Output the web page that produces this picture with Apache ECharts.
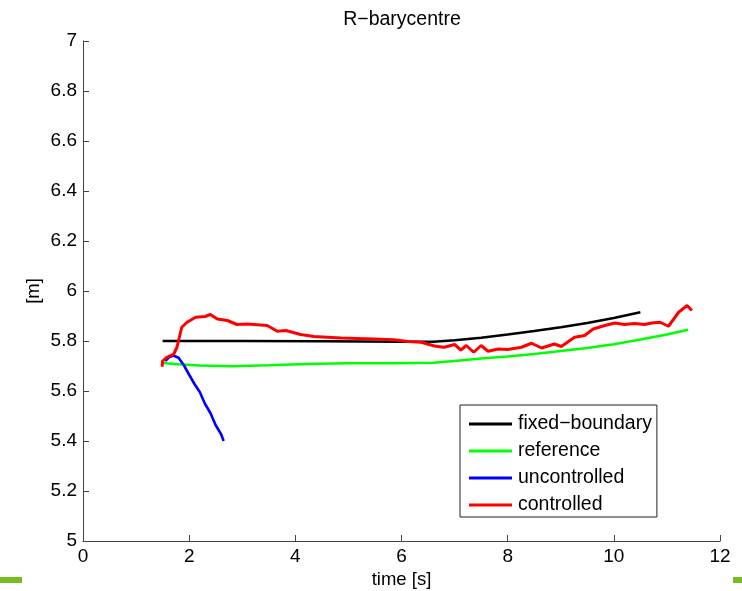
<!DOCTYPE html>
<html>
<head>
<meta charset="utf-8">
<script src="https://cdn.jsdelivr.net/npm/echarts@6/dist/echarts.min.js"></script>
<style>
html,body{margin:0;padding:0;background:#fff;}
#chart{width:742px;height:591px;}
</style>
</head>
<body>
<div id="chart"></div>
<script>
const seriesNames = ['fixed\u2212boundary', 'reference', 'uncontrolled', 'controlled'];

const fixedT = [1.5, 3.0, 4.5, 6.0, 6.6, 7.0, 7.5, 8.0, 8.5, 9.0, 9.5, 10.0, 10.5];
const fixedR = [5.800, 5.800, 5.799, 5.797, 5.797, 5.803, 5.813, 5.826, 5.840, 5.855, 5.872, 5.892, 5.915];

const refT = [1.5, 1.8, 2.2, 2.8, 3.5, 4.2, 5.0, 5.8, 6.6, 7.0, 7.5, 8.0, 8.5, 9.0, 9.5, 10.0, 10.5, 11.0, 11.4];
const refR = [5.712, 5.707, 5.702, 5.699, 5.703, 5.708, 5.711, 5.711, 5.713, 5.720, 5.730, 5.738, 5.748, 5.760, 5.772, 5.787, 5.806, 5.826, 5.845];

const uncT = [1.55, 1.62, 1.70, 1.80, 1.90, 2.00, 2.10, 2.20, 2.30, 2.40, 2.50, 2.60, 2.65];
const uncR = [5.720, 5.735, 5.742, 5.733, 5.703, 5.665, 5.628, 5.596, 5.548, 5.512, 5.463, 5.428, 5.400];

const ctlT = [1.49, 1.50, 1.58, 1.71, 1.77, 1.86, 1.96, 2.12, 2.30, 2.40, 2.53, 2.72, 2.90, 3.09, 3.47, 3.66, 3.82, 4.10, 4.35, 4.86, 5.48, 5.86, 6.12, 6.37, 6.62, 6.80, 7.00, 7.12, 7.22, 7.36, 7.50, 7.63, 7.82, 8.00, 8.26, 8.45, 8.64, 8.88, 9.01, 9.26, 9.45, 9.61, 9.83, 10.02, 10.20, 10.39, 10.58, 10.71, 10.87, 11.03, 11.22, 11.38, 11.47];
const ctlR = [5.697, 5.720, 5.735, 5.748, 5.775, 5.855, 5.875, 5.895, 5.898, 5.906, 5.888, 5.882, 5.866, 5.868, 5.862, 5.839, 5.842, 5.826, 5.818, 5.812, 5.808, 5.805, 5.798, 5.795, 5.780, 5.775, 5.786, 5.764, 5.782, 5.755, 5.782, 5.759, 5.768, 5.766, 5.775, 5.791, 5.772, 5.788, 5.778, 5.815, 5.822, 5.848, 5.862, 5.872, 5.866, 5.870, 5.866, 5.872, 5.875, 5.859, 5.915, 5.942, 5.922];

const xTicks = [0, 2, 4, 6, 8, 10, 12];
const yTicks = [5, 5.2, 5.4, 5.6, 5.8, 6, 6.2, 6.4, 6.6, 6.8, 7];

function zip(a, b) { return a.map((v, i) => [v, b[i]]); }

const FONT = '"Liberation Sans", Arial, Helvetica, sans-serif';
const colors = ['#000000', '#00ff00', '#0000ff', '#ff0000'];
const dataSets = [zip(fixedT, fixedR), zip(refT, refR), zip(uncT, uncR), zip(ctlT, ctlR)];
const LINE_ICON = 'path://M0,0H43V3H0Z';

const chart = echarts.init(document.getElementById('chart'), null, {renderer: 'canvas'});
chart.setOption({
  animation: false,
  backgroundColor: '#ffffff',
  title: {
    text: 'R\u2212barycentre',
    left: 397, top: 5, textAlign: 'center',
    textStyle: {fontFamily: FONT, fontSize: 19.5, fontWeight: 'normal', color: '#000'}
  },
  grid: {left: 83, right: 22, top: 41, bottom: 50, containLabel: false, outerBoundsMode: 'none'},
  legend: {
    orient: 'vertical',
    left: 460, top: 405,
    padding: [9, 5, 2, 9],
    itemWidth: 43, itemHeight: 14, itemGap: 7,
    symbolKeepAspect: true,
    borderColor: '#222', borderWidth: 1,
    backgroundColor: '#fff',
    textStyle: {fontFamily: FONT, fontSize: 19.5, lineHeight: 19, color: '#000', padding: [0, 0, 0, 1]},
    data: seriesNames.map(n => ({name: n, icon: LINE_ICON})),
    itemStyle: {borderWidth: 0}
  },
  xAxis: {
    type: 'value', min: 0, max: 12, interval: 2,
    name: 'time [s]', nameLocation: 'middle', nameGap: 28,
    nameTextStyle: {fontFamily: FONT, fontSize: 18.5, color: '#000'},
    axisLine: {show: true, lineStyle: {color: '#444', width: 1}},
    axisTick: {show: true, inside: true, length: 6, lineStyle: {color: '#444'}},
    axisLabel: {fontFamily: FONT, fontSize: 19, color: '#000', margin: 6,
      formatter: v => xTicks.includes(v) ? String(v) : ''},
    splitLine: {show: false}
  },
  yAxis: {
    type: 'value', min: 5, max: 7, interval: 0.2,
    name: '[m]', nameLocation: 'middle', nameGap: 40, nameRotate: 90,
    nameMoveOverlap: false,
    nameTextStyle: {fontFamily: FONT, fontSize: 18.5, color: '#000'},
    axisLine: {show: true, lineStyle: {color: '#444', width: 1}},
    axisTick: {show: true, inside: true, length: 6, lineStyle: {color: '#444'}},
    axisLabel: {fontFamily: FONT, fontSize: 19, color: '#000', margin: 6,
      formatter: v => { const r = Math.round(v * 10) / 10; return yTicks.some(t => Math.abs(t - r) < 1e-9) ? String(r) : ''; }},
    splitLine: {show: false}
  },
  graphic: [
    {type: 'rect', left: 0, top: 577, shape: {width: 22, height: 6}, style: {fill: '#76bc21'}},
    {type: 'rect', left: 733, top: 577, shape: {width: 9, height: 6}, style: {fill: '#76bc21'}}
  ],
  series: seriesNames.map((n, i) => ({
    name: n, type: 'line', data: dataSets[i],
    symbol: 'none', smooth: false,
    lineStyle: {color: colors[i], width: i === 3 ? 3 : 2.6},
    itemStyle: {color: colors[i]},
    z: i === 3 ? 5 : 3
  }))
});
</script>
</body>
</html>
